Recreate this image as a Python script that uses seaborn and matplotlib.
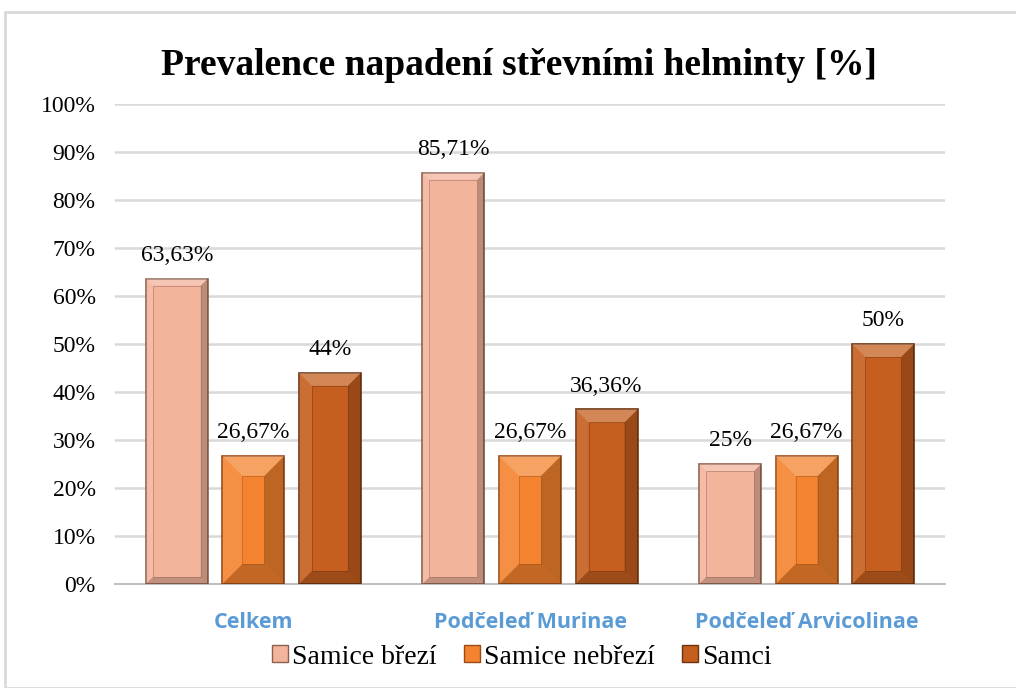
#!/usr/bin/env python3
# -*- coding: utf-8 -*-
"""
Prevalence napadení střevními helminty - grouped bar chart
"""

#%% load modules
import numpy as np
import pandas as pd
import matplotlib
matplotlib.use('Agg')
import matplotlib.pyplot as plt
import seaborn as sns
from matplotlib.patches import Rectangle, Polygon

#%% data
categories = ['Celkem', 'Podčeleď Murinae', 'Podčeleď Arvicolinae']
groups = ['Samice březí', 'Samice nebřezí', 'Samci']
samice_brezi = [63.63, 85.71, 25.0]
samice_nebrezi = [26.67, 26.67, 26.67]
samci = [44.0, 36.36, 50.0]
value_labels = {
    'Samice březí': ['63,63%', '85,71%', '25%'],
    'Samice nebřezí': ['26,67%', '26,67%', '26,67%'],
    'Samci': ['44%', '36,36%', '50%'],
}
yticks = [0, 10, 20, 30, 40, 50, 60, 70, 80, 90, 100]

colors = ['#F3B49C', '#F3832E', '#C55E1E']
edges = ['#8E6050', '#9A4A14', '#6E3410']
bevel_px = [7, 20, 13]   # bevel size per group, pixels

df = pd.DataFrame({
    'Kategorie': categories * 3,
    'Skupina': [g for g in groups for _ in categories],
    'Hodnota': samice_brezi + samice_nebrezi + samci,
})

#%% plot
sns.set_style('white')
plt.rcParams['font.family'] = ['Liberation Serif', 'DejaVu Serif']
plt.rcParams['text.color'] = 'black'
plt.rcParams['xtick.color'] = 'black'
plt.rcParams['ytick.color'] = 'black'

fig = plt.figure(figsize=(10.16, 6.88), dpi=100)
ax = fig.add_axes([115/1016, 104/688, 830/1016, 480/688])

sns.barplot(data=df, x='Kategorie', y='Hodnota', hue='Skupina',
            hue_order=groups, order=categories, palette=colors, saturation=1,
            width=0.83, gap=0.19, ax=ax, legend=False, zorder=3)

ax.set_ylim(0, 100)
ax.set_xlim(-0.5, 2.5)

# pixel -> data conversion for bevels
px_x = 3.0 / 830
px_y = 100.0 / 480

for cont, grp, ec, bp in zip(ax.containers, groups, edges, bevel_px):
    for bar in cont:
        bar.set_edgecolor(ec)
        bar.set_linewidth(1.2)
        x0, y0 = bar.get_x(), bar.get_y()
        x1, y1 = x0 + bar.get_width(), y0 + bar.get_height()
        bx = min(bp * px_x, bar.get_width() / 2 * 0.95)
        by = min(bp * px_y, bar.get_height() / 2 * 0.95)
        faces = [
            ([(x0, y1), (x1, y1), (x1 - bx, y1 - by), (x0 + bx, y1 - by)], 'white', 0.25),
            ([(x0, y0), (x1, y0), (x1 - bx, y0 + by), (x0 + bx, y0 + by)], 'black', 0.20),
            ([(x0, y0), (x0 + bx, y0 + by), (x0 + bx, y1 - by), (x0, y1)], 'white', 0.10),
            ([(x1, y0), (x1 - bx, y0 + by), (x1 - bx, y1 - by), (x1, y1)], 'black', 0.22),
        ]
        for pts, c, a in faces:
            ax.add_patch(Polygon(pts, closed=True, facecolor=c, alpha=a,
                                 edgecolor='none', zorder=4))
        ax.add_patch(Rectangle((x0 + bx, y0 + by), x1 - x0 - 2 * bx, y1 - y0 - 2 * by,
                               fill=False, edgecolor=ec, linewidth=0.6, alpha=0.5, zorder=4))
    ax.bar_label(cont, labels=value_labels[grp], padding=9,
                 fontsize=17, color='black')

ax.set_yticks(yticks)
ax.set_yticklabels([f'{t}%' for t in yticks], fontsize=17)
ax.yaxis.grid(True, color='#D9D9D9', linewidth=1.8, zorder=0)
ax.set_axisbelow(True)
ax.tick_params(axis='y', length=0, pad=14)
ax.tick_params(axis='x', which='major', length=0, pad=20)
ax.set_xticks([-0.5, 0.5, 1.5, 2.5], minor=True)
ax.tick_params(axis='x', which='minor', length=6, color='#BFBFBF', width=1.5)
for lbl in ax.get_xticklabels():
    lbl.set_family(['Open Sans', 'DejaVu Sans'])
    lbl.set_fontweight('bold')
    lbl.set_fontsize(15.5)
    lbl.set_color('#5B9BD5')
ax.set_xlabel('')
ax.set_ylabel('')
for s in ['left', 'right', 'top']:
    ax.spines[s].set_visible(False)
ax.spines['bottom'].set_color('#BFBFBF')
ax.spines['bottom'].set_linewidth(1.5)

fig.suptitle('Prevalence napadení střevními helminty [%]', x=519/1016, y=0.93,
             fontsize=27, fontweight='bold', color='black')

handles = [Rectangle((0, 0), 1, 1, facecolor=c, edgecolor=e, linewidth=1)
           for c, e in zip(colors, edges)]
fig.legend(handles, groups, loc='center', bbox_to_anchor=(522/1016, 1 - 657/688),
           ncol=3, frameon=False, fontsize=20, handlelength=0.55, handleheight=0.55,
           handletextpad=0.15, columnspacing=1.0)

# light frame around chart area
fig.patches.append(Rectangle((5/1016, 0.0), 1.0, 1 - 12/688, transform=fig.transFigure,
                             fill=False, edgecolor='#D9D9D9', linewidth=2))

plt.savefig('out.png', dpi=100)
